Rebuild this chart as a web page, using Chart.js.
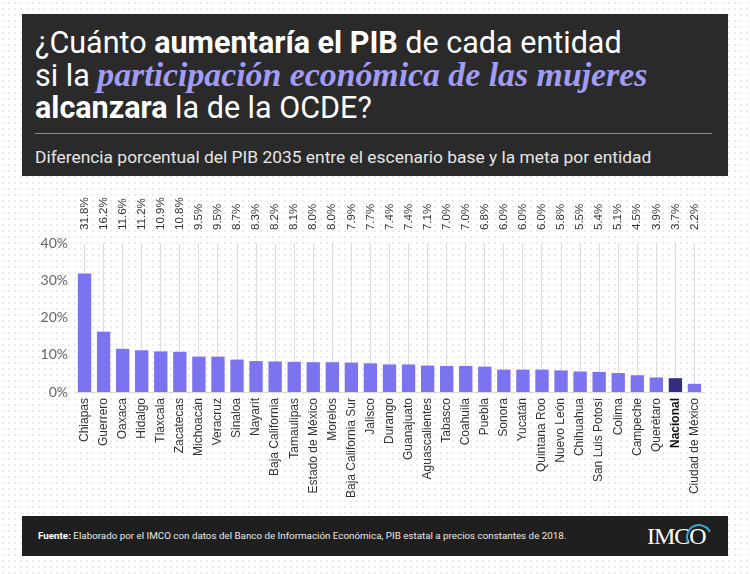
<!DOCTYPE html>
<html>
<head>
<meta charset="utf-8">
<script src="https://cdn.jsdelivr.net/npm/chart.js@4/dist/chart.umd.min.js"></script>
<style>
  html, body { margin:0; padding:0; }
  body { width:750px; height:574px; position:relative; overflow:hidden;
    background-color:#fff;
    background-image: radial-gradient(circle, #ececec 0.9px, transparent 1.3px);
    background-size: 6px 6px; }
  #header { position:absolute; left:22px; top:14px; width:706px; height:162px; background:#2a2a2a; }
  #title { position:absolute; left:13px; top:13px; font-family:Roboto, sans-serif; font-size:30.5px; line-height:32px; color:#fff; white-space:nowrap; }
  #title b { font-weight:700; }
  #title .hl { font-family:"Liberation Serif", serif; font-style:italic; font-weight:700; color:#a29cf4; font-size:33.8px; }
  #sep { position:absolute; left:13px; top:119px; width:677px; height:1px; background:#8a8a8a; }
  #subtitle { position:absolute; left:13px; top:133px; font-family:Roboto, sans-serif; font-size:17.4px; color:#e6e6e6; white-space:nowrap; }
  #chartwrap { position:absolute; left:0; top:178px; width:750px; height:337px; }
  #footer { position:absolute; left:22px; top:516px; width:706px; height:40px; background:#1f1f1f; }
  #source { position:absolute; left:16px; top:14px; font-family:Roboto, sans-serif; font-size:9.8px; color:#e8e8e8; white-space:nowrap; }
  #source b { font-weight:700; color:#fff; }
  #logo { position:absolute; left:625px; top:7px; font-family:"Liberation Serif", serif; font-size:24px; color:#fff; letter-spacing:-1px; }
  #swirl { position:absolute; left:664px; top:8px; width:22px; height:22px; border-radius:50%; border:2px solid transparent; border-top-color:#3aa6d8; border-left-color:#3aa6d8; transform:rotate(20deg); }
</style>
</head>
<body>
<div id="header">
  <div id="title">¿Cuánto <b>aumentaría el PIB</b> de cada entidad<br>si la <span class="hl">participación económica de las mujeres</span><br><b>alcanzara</b> la de la OCDE?</div>
  <div id="sep"></div>
  <div id="subtitle">Diferencia porcentual del PIB 2035 entre el escenario base y la meta por entidad</div>
</div>
<div id="chartwrap"><canvas id="c" width="750" height="337"></canvas></div>
<div id="footer">
  <div id="source"><b>Fuente:</b> Elaborado por el IMCO con datos del Banco de Información Económica, PIB estatal a precios constantes de 2018.</div>
  <div id="logo">IMCO</div>
  <div id="swirl"></div>
</div>
<script>
const categories = ["Chiapas","Guerrero","Oaxaca","Hidalgo","Tlaxcala","Zacatecas","Michoacán","Veracruz","Sinaloa","Nayarit","Baja California","Tamaulipas","Estado de México","Morelos","Baja California Sur","Jalisco","Durango","Guanajuato","Aguascalientes","Tabasco","Coahuila","Puebla","Sonora","Yucatán","Quintana Roo","Nuevo León","Chihuahua","San Luis Potosí","Colima","Campeche","Querétaro","Nacional","Ciudad de México"];
const values = [31.8,16.2,11.6,11.2,10.9,10.8,9.5,9.5,8.7,8.3,8.2,8.1,8.0,8.0,7.9,7.7,7.4,7.4,7.1,7.0,7.0,6.8,6.0,6.0,6.0,5.8,5.5,5.4,5.1,4.5,3.9,3.7,2.2];
const yTicks = [0,10,20,30,40];
const highlight = "Nacional";

const barColors = categories.map(c => c === highlight ? "#332c82" : "#7b73f0");

const valueLabels = {
  id: 'valueLabels',
  afterDatasetsDraw(chart) {
    const ctx = chart.ctx;
    const meta = chart.getDatasetMeta(0);
    ctx.save();
    ctx.font = '11.5px "Liberation Sans", Arial, sans-serif';
    ctx.fillStyle = '#333';
    ctx.textAlign = 'left';
    ctx.textBaseline = 'middle';
    meta.data.forEach((bar, i) => {
      ctx.save();
      ctx.translate(bar.x, chart.chartArea.top - 13);
      ctx.rotate(-Math.PI / 2);
      ctx.fillText(values[i].toFixed(1) + '%', 0, 0);
      ctx.restore();
    });
    ctx.restore();
  }
};

new Chart(document.getElementById('c'), {
  type: 'bar',
  data: {
    labels: categories,
    datasets: [{
      data: values,
      backgroundColor: barColors,
      borderColor: barColors,
      borderWidth: 0,
      categoryPercentage: 1,
      barPercentage: 0.7
    }]
  },
  options: {
    responsive: false,
    animation: false,
    layout: { padding: { left: 0, right: 46, top: 65, bottom: 0 } },
    plugins: { legend: { display: false }, tooltip: { enabled: false } },
    scales: {
      x: {
        afterFit: s => { s.height = 123; },
        grid: { display: true, offset: false, color: '#dcdcdc', drawTicks: false, lineWidth: 1 },
        border: { display: true, color: '#dcdcdc' },
        ticks: {
          autoSkip: false, maxRotation: 90, minRotation: 90, padding: 6,
          color: ctx => categories[ctx.index] === highlight ? '#111' : '#333',
          font: ctx => ({ family: '"Liberation Sans", Arial, sans-serif', size: 12, weight: categories[ctx.index] === highlight ? 'bold' : 'normal' })
        }
      },
      y: {
        min: 0, max: 40,
        afterFit: s => { s.width = 75; },
        afterBuildTicks: s => { s.ticks = yTicks.map(v => ({ value: v })); },
        grid: { display: false, drawTicks: false },
        border: { display: false },
        ticks: {
          padding: 7, color: '#666',
          font: { family: 'Lato, sans-serif', size: 14 },
          callback: v => v + '%'
        }
      }
    }
  },
  plugins: [valueLabels]
});
</script>
</body>
</html>
